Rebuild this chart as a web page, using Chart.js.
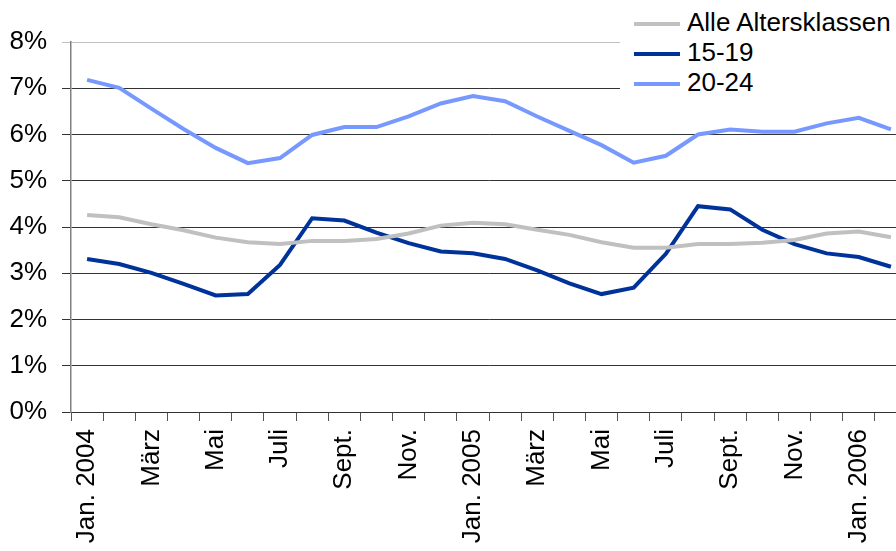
<!DOCTYPE html>
<html>
<head>
<meta charset="utf-8">
<script src="https://cdn.jsdelivr.net/npm/chart.js@4.4.0/dist/chart.umd.min.js"></script>
<style>
  html, body { margin: 0; padding: 0; background: #fff; }
  #wrap { position: relative; width: 896px; height: 551px; overflow: hidden; }
  #legend { position: absolute; left: 620px; top: 0; width: 290px; height: 97px; background: #fff;
            font-family: "Liberation Sans", Arial, sans-serif; font-size: 26px; color: #000; }
  .item { position: absolute; left: 14px; height: 30px; line-height: 30px; white-space: nowrap; }
  .item span { display: inline-block; width: 46px; height: 4px; vertical-align: middle; margin-right: 7px; }
</style>
</head>
<body>
<div id="wrap">
  <canvas id="myChart" width="940" height="551"></canvas>
  <div id="legend"></div>
</div>
<script>
// monthly labels, Jan 2004 .. Feb 2006 (every other one shown)
const months = ['Jan. 2004', 'Feb.', 'März', 'April', 'Mai', 'Juni', 'Juli', 'Aug.', 'Sept.', 'Okt.', 'Nov.', 'Dez.',
                'Jan. 2005', 'Feb.', 'März', 'April', 'Mai', 'Juni', 'Juli', 'Aug.', 'Sept.', 'Okt.', 'Nov.', 'Dez.',
                'Jan. 2006', 'Feb.'];

// unemployment rate in %
const alleAltersklassen = [4.26, 4.21, 4.06, 3.93, 3.77, 3.67, 3.63, 3.70, 3.70, 3.74, 3.86, 4.03, 4.09,
                           4.06, 3.94, 3.83, 3.67, 3.55, 3.55, 3.63, 3.63, 3.66, 3.72, 3.86, 3.90, 3.78];
const age1519 = [3.31, 3.20, 3.01, 2.77, 2.52, 2.55, 3.18, 4.19, 4.14, 3.88, 3.65, 3.47, 3.43,
                 3.31, 3.06, 2.78, 2.55, 2.69, 3.42, 4.45, 4.38, 3.94, 3.63, 3.43, 3.35, 3.14];
const age2024 = [7.18, 7.01, 6.56, 6.12, 5.71, 5.38, 5.49, 5.99, 6.16, 6.16, 6.39, 6.67, 6.83,
                 6.72, 6.39, 6.08, 5.77, 5.39, 5.54, 6.00, 6.11, 6.06, 6.06, 6.24, 6.36, 6.11];

const seriesNames = ['Alle Altersklassen', '15-19', '20-24'];
const seriesColors = ['#c0c0c0', '#003399', '#7799ff'];
const yTicks = [0, 1, 2, 3, 4, 5, 6, 7, 8];

Chart.defaults.font.family = '"Liberation Sans", Arial, sans-serif';
Chart.defaults.font.size = 26;
Chart.defaults.color = '#000';

const ctx = document.getElementById('myChart').getContext('2d');
const allData = [alleAltersklassen, age1519, age2024];

const myChart = new Chart(ctx, {
  type: 'line',
  data: {
    labels: months,
    datasets: allData.map((d, i) => ({
      label: seriesNames[i],
      data: d,
      borderColor: seriesColors[i],
      backgroundColor: seriesColors[i],
      borderWidth: 4,
      pointRadius: 0,
      tension: 0,
      fill: false
    }))
  },
  options: {
    responsive: false,
    animation: false,
    devicePixelRatio: 1,
    layout: { padding: { top: 42, right: 33, bottom: 0, left: 0 } },
    plugins: { legend: { display: false }, tooltip: { enabled: false } },
    scales: {
      x: {
        offset: true,
        grid: { offset: true, drawOnChartArea: false, drawTicks: true, tickLength: 9, color: '#555' },
        border: { color: '#333', width: 1 },
        ticks: {
          autoSkip: false, maxRotation: 90, minRotation: 90, padding: 8,
          callback: function(val, i) { return i % 2 === 0 ? months[i] : ''; }
        },
        afterFit: function(scale) { scale.height = 139; }
      },
      y: {
        min: yTicks[0],
        max: yTicks[yTicks.length - 1],
        afterBuildTicks: function(scale) { scale.ticks = yTicks.map(v => ({value: v})); },
        grid: {
          tickLength: 9,
          color: function(c) { return c.tick && c.tick.value === 8 ? '#c0c0c0' : '#333'; }
        },
        border: { color: '#808080', width: 1.5 },
        ticks: { padding: 15, callback: function(v) { return v + '%'; } },
        afterFit: function(scale) { scale.width = 71; }
      }
    }
  }
});

// legend drawn as html on top of the plot (white box hides gridlines)
const leg = document.getElementById('legend');
seriesNames.forEach((n, i) => {
  const d = document.createElement('div');
  d.className = 'item';
  d.style.top = (7 + i * 30) + 'px';
  d.innerHTML = '<span style="background:' + seriesColors[i] + '"></span>' + n;
  leg.appendChild(d);
});
</script>
</body>
</html>
